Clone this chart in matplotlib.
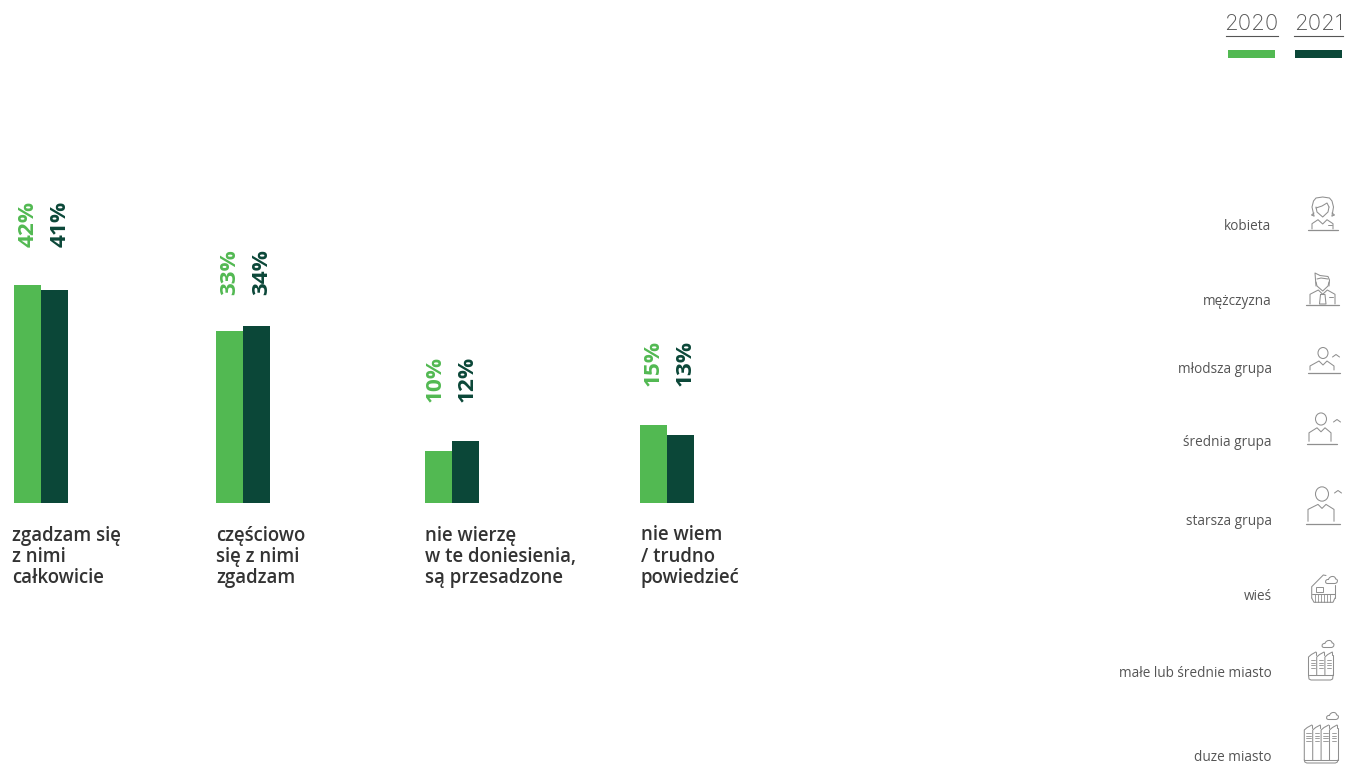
import matplotlib
matplotlib.use("Agg")
import matplotlib.pyplot as plt
from matplotlib.patches import Ellipse, PathPatch, Rectangle
from matplotlib.path import Path

W, H = 1346, 765
GREEN = "#52b952"
DARK = "#0b4738"
GREY = "#555555"
ICON = "#8f8f8f"

categories = ["zgadzam się\nz nimi\ncałkowicie",
              "częściowo\nsię z nimi\nzgadzam",
              "nie wierzę\nw te doniesienia,\nsą przesadzone",
              "nie wiem\n/ trudno\npowiedzieć"]
values_2020 = [42, 33, 10, 15]
values_2021 = [41, 34, 12, 13]
years = ["2020", "2021"]
groups = ["kobieta", "mężczyzna", "młodsza grupa", "średnia grupa",
          "starsza grupa", "wieś", "małe lub średnie miasto", "duze miasto"]

# layout, in pixels
bar_left = [14, 216, 425, 640]
bar_w = 27
label_x = [12, 216, 425, 641]
pct_bottom = [247, 295, 402, 386]
pct_x = [(28.5, 60.5), (230, 262), (435.5, 467.5), (653.5, 685.5)]
group_y = [230, 305, 373, 446, 525, 600, 677, 761]
BASE = 503
PX_PER_PCT = 5.2

fig = plt.figure(figsize=(W / 100, H / 100), dpi=100)

# bars use a percent y scale
ax = fig.add_axes([0, 0, 1, 1])
ax.set_xlim(0, W)
ax.set_ylim(-(H - BASE) / PX_PER_PCT, BASE / PX_PER_PCT)
ax.axis("off")
ax.bar([x + bar_w / 2 for x in bar_left], values_2020, bar_w, color=GREEN)
ax.bar([x + bar_w * 1.5 for x in bar_left], values_2021, bar_w, color=DARK)

# everything else in pixel coords
px = fig.add_axes([0, 0, 1, 1])
px.set_xlim(0, W)
px.set_ylim(H, 0)
px.axis("off")
px.patch.set_alpha(0)

for i, cat in enumerate(categories):
    px.text(label_x[i], 525.5, cat, fontfamily="Open Sans", fontweight="semibold",
            fontsize=13.45, color="#333333", va="top", ha="left", linespacing=1.08)
    px.text(pct_x[i][0], pct_bottom[i], f"{values_2020[i]}%", rotation=90, color=GREEN,
            fontfamily="Open Sans", fontweight="bold", fontsize=16.2, ha="center", va="bottom")
    px.text(pct_x[i][1], pct_bottom[i], f"{values_2021[i]}%", rotation=90, color=DARK,
            fontfamily="Open Sans", fontweight="bold", fontsize=16.2, ha="center", va="bottom")

for name, y in zip(groups, group_y):
    px.text(1271.5, y, name, fontfamily="Open Sans", fontsize=9.85, color=GREY,
            ha="right", va="baseline")

# legend
for yr, cx, line, sw, col in zip(years, [1251.5, 1318.5], [(1226, 1278), (1294, 1343)],
                                 [1228, 1295], [GREEN, DARK]):
    px.text(cx, 29.5, yr, fontfamily="Inter", fontweight="light", fontsize=16, color=GREY,
            ha="center", va="baseline")
    px.plot(line, [35.5, 35.5], color=GREY, lw=0.8)
    px.add_patch(Rectangle((sw, 50), 47, 8, color=col, lw=0))


def stroke(xs, ys, lw=0.75):
    px.plot(xs, ys, color=ICON, lw=lw, solid_capstyle="round", solid_joinstyle="round")


def person(cx, head_y, r, base_y, half, chevron):
    px.add_patch(Ellipse((cx, head_y), r * 2, r * 2.2, fill=False, ec=ICON, lw=0.75))
    sy = head_y + r * 1.6
    stroke([cx - half + 2, cx - half + 2, cx - 4, cx, cx + 4, cx + half - 4, cx + half - 4],
           [base_y - 3, sy + 5, sy, sy + 4, sy, sy + 5, base_y - 3])
    stroke([cx - half, cx + half + 2], [base_y, base_y], 0.9)
    stroke([chevron[0] - 3.5, chevron[0], chevron[0] + 3.5],
           [chevron[1] + 2.5, chevron[1], chevron[1] + 2.5])


def cloud(cx, cy):
    verts = [(cx - 4, cy + 3.5),
             (cx - 7, cy + 3.5), (cx - 6.5, cy - 1), (cx - 3, cy - 0.5),
             (cx - 2, cy - 4.5), (cx + 4, cy - 4.5), (cx + 4, cy - 1),
             (cx + 7, cy - 1), (cx + 6.5, cy + 3.5), (cx + 3, cy + 3.5),
             (cx - 4, cy + 3.5)]
    codes = [Path.MOVETO] + [Path.CURVE4] * 9 + [Path.LINETO]
    px.add_patch(PathPatch(Path(verts, codes), fill=False, ec=ICON, lw=0.75))


def blocks(x0, n, w, top, base, tray):
    for k in range(n):
        x = x0 + k * w
        stroke([x, x, x + w * 0.35, x + w * 0.9], [base, top + 5, top + 2.5, top])
        stroke([x + w * 0.9, x + w * 0.9], [top, top + 3])
        for j in range(4):
            yy = top + 8 + j * 2.7
            stroke([x + 2, x + w - 2], [yy, yy], 0.6)
    x1 = x0 + n * w
    stroke([x1, x1], [top + 3, base])
    stroke([x0, x1], [base, base])
    stroke([x0, x0 + 0.5, x0 + 2.5, x1 - 2.5, x1 - 0.5, x1],
           [base, base + tray - 1, base + tray, base + tray, base + tray - 1, base])


# kobieta
stroke([1314, 1312, 1313.5, 1316, 1322.7, 1329.5, 1332, 1333.5, 1332],
       [216, 207, 201, 198, 197, 198, 201, 207, 216])
stroke([1314, 1311.5, 1314], [216, 215, 213])
stroke([1332, 1334.5, 1332], [216, 215, 213])
stroke([1316, 1317, 1322.7, 1328, 1329], [207, 212, 217, 212, 207])
stroke([1316, 1322, 1327, 1329], [208, 206, 203, 207])
stroke([1312, 1312, 1318, 1322.7, 1327, 1333, 1333], [229, 223.7, 219.7, 224, 219.7, 223.7, 229])
stroke([1328, 1332], [225, 225], 0.7)
stroke([1308, 1338], [229.7, 229.7], 0.9)

# mezczyzna
stroke([1316, 1315, 1320, 1328, 1329.5, 1329], [286, 273, 275.5, 276.5, 280, 286])
stroke([1316, 1317, 1322.7, 1328, 1329], [282, 286, 291, 286, 282])
stroke([1317, 1321, 1328], [279, 278, 279])
stroke([1310, 1310, 1318.3, 1322.7, 1327.3, 1335, 1335], [304, 294.3, 290, 294.3, 290, 294.3, 304])
stroke([1320.5, 1325, 1326, 1319.5, 1320.5], [294.5, 294.5, 304, 304, 294.5])
stroke([1329, 1333], [296.5, 296.5], 0.7)
stroke([1306, 1339], [304.5, 304.5], 0.9)

person(1323, 353, 5, 373, 15, (1336, 354.5))
person(1321, 419, 5.5, 444.3, 14, (1337, 419.5))
person(1322, 494, 6.5, 524.3, 16, (1338, 490.5))

# wies
stroke([1311.7, 1311.7, 1323.3, 1326], [598, 586.7, 575, 575.5])
stroke([1335, 1335], [585, 598])
stroke([1311.7, 1314, 1333, 1335], [598, 602.3, 602.3, 598])
stroke([1311.7, 1335], [594, 594])
for x in range(1315, 1333, 3):
    stroke([x, x], [594, 602], 0.6)
px.add_patch(Rectangle((1315.7, 586.7), 7, 5, fill=False, ec=ICON, lw=0.7))
cloud(1331.5, 580)

# miasta
blocks(1308.5, 3, 8.2, 652, 675, 5)
cloud(1328, 644)
blocks(1304.3, 4, 8.4, 725, 760, 3)
cloud(1332.5, 716)

fig.savefig("out.png", dpi=100, facecolor="white")
